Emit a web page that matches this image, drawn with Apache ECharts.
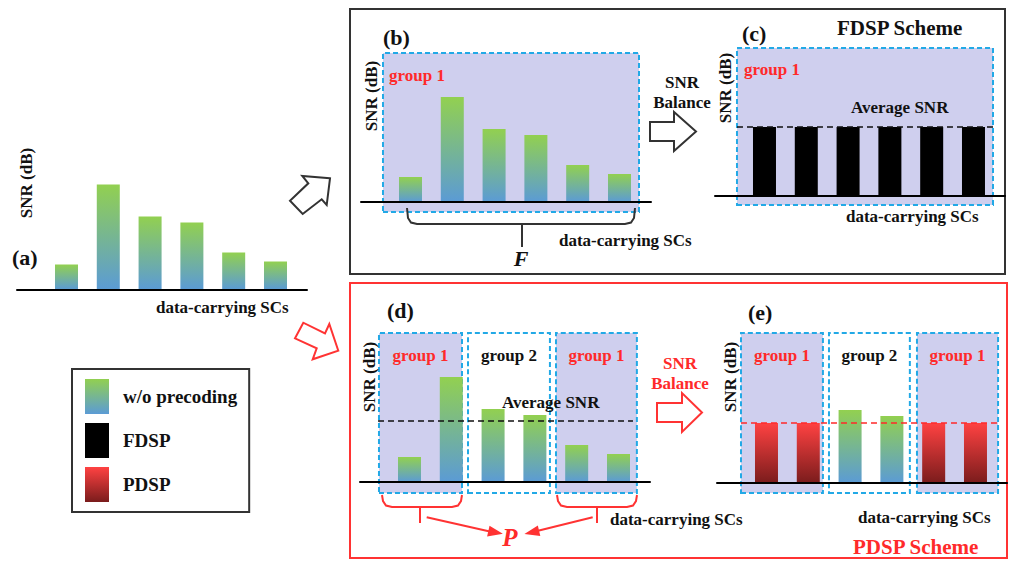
<!DOCTYPE html>
<html><head><meta charset="utf-8">
<script src="https://cdn.jsdelivr.net/npm/echarts@6/dist/echarts.min.js"></script>
<style>html,body{margin:0;padding:0;background:#fff}#c{width:1011px;height:561px}</style>
</head><body><div id="c"></div><script>
// ---------------- data ----------------
const scIndex = [1, 2, 3, 4, 5, 6];                       // data-carrying subcarriers
const snrWithoutPrecoding = [2.5, 10.5, 7.3, 6.7, 3.7, 2.8]; // SNR per SC (dB, schematic)
const snrFDSP = [6.9, 6.9, 6.9, 6.9, 6.9, 6.9];           // fully balanced
const snrPDSPGroup1 = [6.0, 6.0, null, null, 6.0, 6.0];   // PDSP, group 1 balanced
const snrPDSPGroup2 = [null, null, 7.3, 6.7, null, null]; // group 2 unprecoded
const averageSnrFDSP = 6.9;
const averageSnrD = 6.1;
const averageSnrPDSP = 6.0;
const seriesNames = ['w/o precoding', 'FDSP', 'PDSP'];
const panelLabels = ['(a)', '(b)', '(c)', '(d)', '(e)'];
const groupLabels = ['group 1', 'group 2'];
const yAxisTitle = 'SNR (dB)';
const xAxisTitle = 'data-carrying SCs';
const schemeTitles = ['FDSP Scheme', 'PDSP Scheme'];
const balanceLabel = ['SNR', 'Balance'];
const avgLabel = 'Average SNR';

// ---------------- layout / style ----------------
const FONT = "'Liberation Serif','Times New Roman',serif";
const RED = '#ff2a2a';
const chart = echarts.init(document.getElementById('c'), null, {renderer: 'svg', width: 1011, height: 561});
const gradGB = () => new echarts.graphic.LinearGradient(0, 0, 0, 1, [{offset: 0, color: '#92d050'}, {offset: 1, color: '#5b9bd5'}]);
const gradRed = () => new echarts.graphic.LinearGradient(0, 0, 0, 1, [{offset: 0, color: '#ff4242'}, {offset: 1, color: '#7a1c1c'}]);

const panels = [
  {left: 17,  top: 169.5, height: 130, ymin: -1,   ymax: 12},
  {left: 361, top: 53,    height: 159, ymin: -1,   ymax: 14.9},
  {left: 715, top: 48,    height: 157, ymin: -0.9, ymax: 14.8},
  {left: 360, top: 333,   height: 160, ymin: -1.1, ymax: 14.9},
  {left: 717, top: 333,   height: 160, ymin: -1,   ymax: 15}
];
const XMIN = -0.184, XMAX = 6.754, GW = 290;

const toXY = arr => arr.map((v, i) => [scIndex[i], v == null ? '-' : v]);

const boxStyle = fill => ({color: fill, borderColor: '#22a9e6', borderWidth: 2, borderType: [5, 3]});
const groupLabel = (txt, color, pos, dist, off) => ({
  show: true, position: pos, distance: dist, offset: off || [0, 0], formatter: txt,
  color: color, fontFamily: FONT, fontWeight: 'bold', fontSize: 17
});
const LAV = '#cfcfee';

const barBase = {type: 'bar', barWidth: 23, barGap: '-100%', silent: true, animation: false};

const series = [
  // (a)
  Object.assign({}, barBase, {name: seriesNames[0], xAxisIndex: 0, yAxisIndex: 0, data: toXY(snrWithoutPrecoding), itemStyle: {color: gradGB()}}),
  // (b)
  Object.assign({}, barBase, {name: seriesNames[0], xAxisIndex: 1, yAxisIndex: 1, data: toXY(snrWithoutPrecoding), itemStyle: {color: gradGB()},
    markArea: {silent: true, data: [[
      {name: groupLabels[0], xAxis: 0.342, yAxis: -1, itemStyle: boxStyle(LAV), label: groupLabel(groupLabels[0], RED, 'insideTopLeft', 7, [0, 8])},
      {xAxis: 6.467, yAxis: 14.9}
    ]]}
  }),
  // (c)
  Object.assign({}, barBase, {name: seriesNames[1], xAxisIndex: 2, yAxisIndex: 2, data: toXY(snrFDSP), itemStyle: {color: '#000'},
    markArea: {silent: true, data: [[
      {name: groupLabels[0], xAxis: 0.342, yAxis: -0.9, itemStyle: boxStyle(LAV), label: groupLabel(groupLabels[0], RED, 'insideTopLeft', 8, [0, 6])},
      {xAxis: 6.467, yAxis: 14.8}
    ]]},
    markLine: {silent: true, symbol: 'none', label: {show: false}, lineStyle: {type: [6, 4], color: '#111', width: 1.5},
      data: [[{xAxis: 0.342, yAxis: averageSnrFDSP}, {xAxis: 6.467, yAxis: averageSnrFDSP}]]}
  }),
  // (d)
  Object.assign({}, barBase, {name: seriesNames[0], xAxisIndex: 3, yAxisIndex: 3, data: toXY(snrWithoutPrecoding), itemStyle: {color: gradGB()},
    markArea: {silent: true, data: [
      [{name: groupLabels[0], xAxis: 0.27, yAxis: -1.1, itemStyle: boxStyle(LAV), label: groupLabel(groupLabels[0], RED, 'insideTop', 15)}, {xAxis: 2.256, yAxis: 14.9}],
      [{name: groupLabels[1], xAxis: 2.40, yAxis: -1.1, itemStyle: boxStyle('#ffffff'), label: groupLabel(groupLabels[1], '#111', 'insideTop', 15)}, {xAxis: 4.36, yAxis: 14.9}],
      [{name: groupLabels[0], xAxis: 4.505, yAxis: -1.1, itemStyle: boxStyle(LAV), label: groupLabel(groupLabels[0], RED, 'insideTop', 15)}, {xAxis: 6.44, yAxis: 14.9}]
    ]},
    markLine: {silent: true, symbol: 'none', label: {show: false}, lineStyle: {type: [6, 4], color: '#111', width: 1.5},
      data: [[{xAxis: 0.247, yAxis: averageSnrD}, {xAxis: 6.347, yAxis: averageSnrD}]]}
  }),
  // (e)
  Object.assign({}, barBase, {name: seriesNames[2], xAxisIndex: 4, yAxisIndex: 4, data: toXY(snrPDSPGroup1), itemStyle: {color: gradRed()},
    markArea: {silent: true, data: [
      [{name: groupLabels[0], xAxis: 0.39, yAxis: -1, itemStyle: boxStyle(LAV), label: groupLabel(groupLabels[0], RED, 'insideTop', 15)}, {xAxis: 2.35, yAxis: 15}],
      [{name: groupLabels[1], xAxis: 2.495, yAxis: -1, itemStyle: boxStyle('#ffffff'), label: groupLabel(groupLabels[1], '#111', 'insideTop', 15)}, {xAxis: 4.43, yAxis: 15}],
      [{name: groupLabels[0], xAxis: 4.60, yAxis: -1, itemStyle: boxStyle(LAV), label: groupLabel(groupLabels[0], RED, 'insideTop', 15)}, {xAxis: 6.54, yAxis: 15}]
    ]},
    markLine: {silent: true, symbol: 'none', label: {show: false}, lineStyle: {type: [6, 4], color: RED, width: 1.5},
      data: [[{xAxis: 0.39, yAxis: averageSnrPDSP}, {xAxis: 6.59, yAxis: averageSnrPDSP}]]}
  }),
  Object.assign({}, barBase, {name: seriesNames[0], xAxisIndex: 4, yAxisIndex: 4, data: toXY(snrPDSPGroup2), itemStyle: {color: gradGB()}})
];

// ---------------- graphic helpers ----------------
function T(text, x, y, o) {
  o = o || {};
  return {type: 'text', x: x, y: y, rotation: o.rot || 0, z: 20, silent: true,
    style: {text: text, x: 0, y: 0, fill: o.color || '#111', fontFamily: FONT, fontWeight: 'bold',
      fontStyle: o.italic ? 'italic' : 'normal', fontSize: o.size || 17,
      align: o.align || 'left', verticalAlign: 'middle', textAlign: o.align || 'left', textVerticalAlign: 'middle'}};
}
function poly(points, stroke, fill) {
  return {type: 'polygon', z: 20, silent: true, shape: {points: points}, style: {fill: fill || '#fff', stroke: stroke, lineWidth: 2, lineJoin: 'miter'}};
}
function pl(points, stroke, w) {
  return {type: 'polyline', z: 20, silent: true, shape: {points: points}, style: {fill: 'none', stroke: stroke, lineWidth: w || 2}};
}
function brace(x1, x2, xm, yTop, yH, yStem, color) {
  return [
    pl([[x1, yTop], [x1 + 1, yH - 6], [x1 + 4, yH - 1.5], [x1 + 10, yH], [xm, yH]], color),
    pl([[x2, yTop], [x2 - 1, yH - 6], [x2 - 4, yH - 1.5], [x2 - 10, yH], [xm, yH]], color),
    pl([[xm, yH], [xm, yStem]], color)
  ];
}

const graphics = [
  {type: 'rect', z: 0, silent: true, shape: {x: 350, y: 9, width: 655, height: 265}, style: {fill: 'none', stroke: '#333', lineWidth: 2}},
  {type: 'rect', z: 0, silent: true, shape: {x: 350, y: 283, width: 657, height: 275}, style: {fill: 'none', stroke: '#ff3333', lineWidth: 2}},
  // arrows from (a)
  poly([[330, 178.3], [302.3, 176], [308.3, 183.3], [290, 200.7], [302.7, 214], [321.7, 199.3], [326.7, 205]], '#333'),
  poly([[338.3, 350.7], [329.3, 324], [325, 333.3], [303.3, 322.7], [295, 338.3], [316.7, 348.3], [312.7, 359.3]], '#ff3333'),
  // SNR balance arrows
  poly([[650, 122], [674, 122], [674, 112], [696, 131.5], [674, 151], [674, 141], [650, 141]], '#333'),
  poly([[657, 403], [682, 403], [682, 393], [702, 412.5], [682, 432], [682, 422], [657, 422]], '#ff3333'),
  // P arrows
  pl([[426.7, 517.3], [492, 532]], '#ff3333', 2),
  poly([[500, 533.3], [488.4, 535.2], [490.2, 527.4]], '#ff3333', '#ff3333'),
  pl([[592.7, 517.3], [535, 531.5]], '#ff3333', 2),
  poly([[527.3, 533.3], [537.2, 527.0], [539.0, 534.8]], '#ff3333', '#ff3333')
].concat(
  brace(407, 635, 522, 208, 224, 247, '#333'),
  brace(382, 462, 420, 495, 507, 523, '#ff3333'),
  brace(557, 637, 597, 495, 507, 523, '#ff3333'),
  [
    T(panelLabels[0], 12, 257, {size: 22}),
    T(panelLabels[1], 383, 37, {size: 22}),
    T(panelLabels[2], 742, 33, {size: 22}),
    T(panelLabels[3], 387, 310, {size: 22}),
    T(panelLabels[4], 748, 312, {size: 22}),
    T(yAxisTitle, 26, 183, {rot: Math.PI / 2, align: 'center'}),
    T(yAxisTitle, 371, 96, {rot: Math.PI / 2, align: 'center'}),
    T(yAxisTitle, 725, 88, {rot: Math.PI / 2, align: 'center'}),
    T(yAxisTitle, 369, 377, {rot: Math.PI / 2, align: 'center'}),
    T(yAxisTitle, 730, 377, {rot: Math.PI / 2, align: 'center'}),
    T(xAxisTitle, 156, 307),
    T(xAxisTitle, 559, 240),
    T(xAxisTitle, 846, 216),
    T(xAxisTitle, 610, 519),
    T(xAxisTitle, 858, 517),
    T(schemeTitles[0], 837, 28, {size: 21}),
    T(schemeTitles[1], 853, 547, {size: 21, color: RED}),
    T(balanceLabel[0], 682, 82, {align: 'center'}),
    T(balanceLabel[1], 682, 102, {align: 'center'}),
    T(balanceLabel[0], 680, 363, {align: 'center', color: RED}),
    T(balanceLabel[1], 680, 383, {align: 'center', color: RED}),
    T(avgLabel, 851, 107),
    T(avgLabel, 502, 402),
    T('F', 521, 258, {italic: true, size: 22, align: 'center'}),
    T('P', 510, 537, {italic: true, size: 25, align: 'center', color: RED})
  ]
);

chart.setOption({
  animation: false,
  backgroundColor: '#fff',
  grid: panels.map(p => ({left: p.left, top: p.top, width: GW, height: p.height, containLabel: false})),
  xAxis: panels.map((p, i) => ({type: 'value', gridIndex: i, min: XMIN, max: XMAX, z: 3,
    axisLine: {show: true, onZero: true, lineStyle: {color: '#000', width: 2}},
    axisTick: {show: false}, axisLabel: {show: false}, splitLine: {show: false}})),
  yAxis: panels.map((p, i) => ({type: 'value', gridIndex: i, min: p.ymin, max: p.ymax, show: false})),
  legend: {
    data: seriesNames, orient: 'vertical', left: 72, top: 369, padding: [10, 12, 10, 13],
    itemWidth: 24, itemHeight: 35, itemGap: 9, icon: 'rect', selectedMode: false,
    borderColor: '#333', borderWidth: 2,
    textStyle: {fontFamily: FONT, fontWeight: 'bold', fontSize: 19, color: '#111', padding: [0, 0, 0, 9]}
  },
  series: series,
  graphic: graphics
});
</script></body></html>
